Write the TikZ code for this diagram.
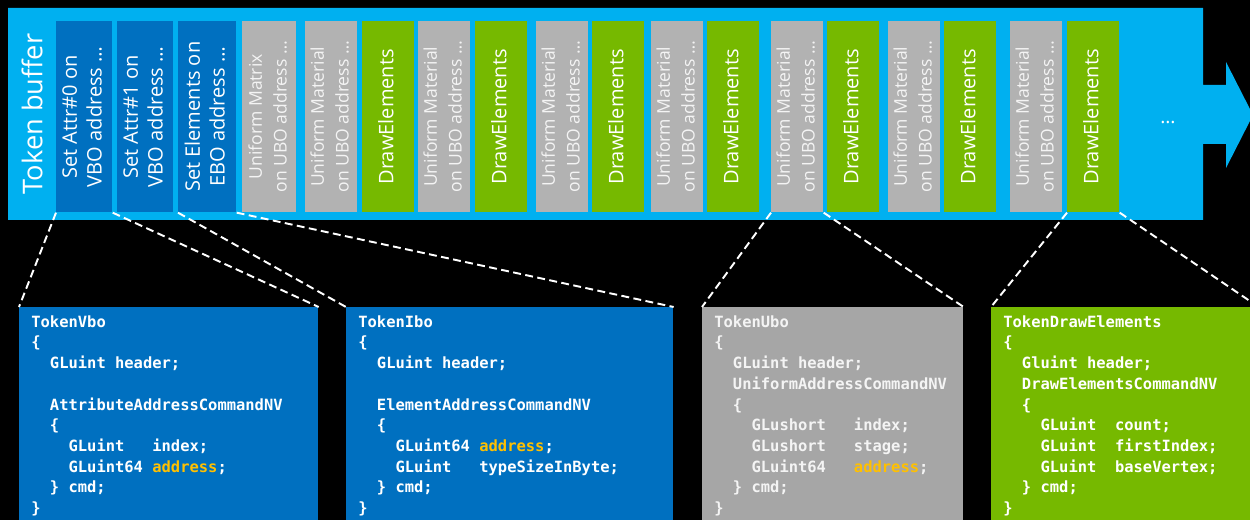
\documentclass[tikz,border=0pt]{standalone}
\usepackage{fontspec}
\usepackage{graphicx}
\setmainfont{Open Sans}
\newfontfamily\codeface{DejaVu Sans Mono}

\definecolor{bufblue}{HTML}{00B0F0}
\definecolor{setblue}{HTML}{0070C0}
\definecolor{unigray}{HTML}{B2B2B2}
\definecolor{ubogray}{HTML}{A6A6A6}
\definecolor{unitext}{HTML}{F4F4F4}
\definecolor{drawgreen}{HTML}{76B900}
\definecolor{addrgold}{HTML}{FFC000}

\newcommand{\vtext}[1]{\rotatebox{90}{\begin{tabular}{@{}c@{}}#1\end{tabular}}}
\newcommand{\addr}{\textcolor{addrgold}{address}}
% n blank characters of the mono font
\newcommand{\tab}[1]{\hspace*{#1\dimexpr 0.602em\relax}}

\tikzset{
  tok/.style={anchor=north west, inner sep=0pt, minimum height=3.82cm,
    text=white, font=\fontsize{11.4}{14}\selectfont},
  setbox/.style={tok, fill=setblue, minimum width=1.12cm},
  unibox/.style={tok, fill=unigray, minimum width=1.04cm, text=unitext,
    font=\fontsize{10}{14}\selectfont},
  drawbox/.style={tok, fill=drawgreen, minimum width=1.04cm},
  codebox/.style={anchor=north west, inner xsep=0.24cm, inner ysep=0.16cm,
    align=left, text=white, font=\codeface\bfseries\fontsize{8.8}{11.8}\selectfont},
  link/.style={draw=white, line width=1.1pt, dash pattern=on 4.5pt off 2.5pt}
}

\begin{document}
\begin{tikzpicture}[x=0.02cm, y=-0.02cm]
  \clip (0,0) rectangle (1250,520);
  \fill[black] (0,0) rectangle (1250,520);

  % token buffer with its arrow
  \fill[bufblue] (8,8) -- (1203,8) -- (1203,85) -- (1226,85) -- (1226,62)
    -- (1253,115) -- (1226,168) -- (1226,144) -- (1203,144) -- (1203,220)
    -- (8,220) -- cycle;
  \node[text=white, font=\fontsize{15.5}{18}\selectfont] (buflabel) at (32,114)
    {\rotatebox{90}{Token buffer}};
  \node[text=white, font=\fontsize{11}{14}\selectfont] (more) at (1168,122) {…};

  % tokens
  \node[setbox] (set0) at (56,21) {\vtext{Set Attr\#0 on\\VBO address …}};
  \node[setbox] (set1) at (117,21) {\vtext{Set Attr\#1 on\\VBO address …}};
  \node[setbox, minimum width=1.16cm] (setebo) at (178,21) {\vtext{Set Elements on\\EBO address …}};
  \node[unibox, minimum width=1.08cm] (unimat) at (242,21) {\vtext{Uniform Matrix\\on UBO address …}};

  \node[unibox] (uni1) at (305,21) {\vtext{Uniform Material\\on UBO address …}};
  \node[drawbox] (draw1) at (362,21) {\vtext{DrawElements}};
  \node[unibox] (uni2) at (418,21) {\vtext{Uniform Material\\on UBO address …}};
  \node[drawbox] (draw2) at (475,21) {\vtext{DrawElements}};
  \node[unibox] (uni3) at (536,21) {\vtext{Uniform Material\\on UBO address …}};
  \node[drawbox] (draw3) at (592,21) {\vtext{DrawElements}};
  \node[unibox] (uni4) at (651,21) {\vtext{Uniform Material\\on UBO address …}};
  \node[drawbox] (draw4) at (707,21) {\vtext{DrawElements}};
  \node[unibox] (uni5) at (771,21) {\vtext{Uniform Material\\on UBO address …}};
  \node[drawbox] (draw5) at (827,21) {\vtext{DrawElements}};
  \node[unibox] (uni6) at (888,21) {\vtext{Uniform Material\\on UBO address …}};
  \node[drawbox] (draw6) at (944,21) {\vtext{DrawElements}};
  \node[unibox] (uni7) at (1010,21) {\vtext{Uniform Material\\on UBO address …}};
  \node[drawbox] (draw7) at (1067,21) {\vtext{DrawElements}};

  % token structs
  \node[codebox, fill=setblue, text width=5.5cm] (vbo) at (19,307) {%
    TokenVbo\\
    \{\\
    \tab2GLuint\tab1header;\\
    \mbox{}\\
    \tab2AttributeAddressCommandNV\\
    \tab2\{\\
    \tab4GLuint\tab3index;\\
    \tab4GLuint64\tab1\addr;\\
    \tab2\}\tab1cmd;\\
    \}};
  \node[codebox, fill=setblue, text width=6.06cm] (ibo) at (346,307) {%
    TokenIbo\\
    \{\\
    \tab2GLuint\tab1header;\\
    \mbox{}\\
    \tab2ElementAddressCommandNV\\
    \tab2\{\\
    \tab4GLuint64\tab1\addr;\\
    \tab4GLuint\tab3typeSizeInByte;\\
    \tab2\}\tab1cmd;\\
    \}};
  \node[codebox, fill=ubogray, text=unitext, text width=4.74cm] (ubo) at (702,307) {%
    TokenUbo\\
    \{\\
    \tab2GLuint\tab1header;\\
    \tab2UniformAddressCommandNV\\
    \tab2\{\\
    \tab4GLushort\tab3index;\\
    \tab4GLushort\tab3stage;\\
    \tab4GLuint64\tab3\addr;\\
    \tab2\}\tab1cmd;\\
    \}};
  \node[codebox, fill=drawgreen, text width=4.86cm] (drawel) at (991,307) {%
    TokenDrawElements\\
    \{\\
    \tab2Gluint\tab1header;\\
    \tab2DrawElementsCommandNV\\
    \tab2\{\\
    \tab4GLuint\tab2count;\\
    \tab4GLuint\tab2firstIndex;\\
    \tab4GLuint\tab2baseVertex;\\
    \tab2\}\tab1cmd;\\
    \}};

  \draw[link] (set0.south west) -- (vbo.north west);
  \draw[link] (set0.south east) -- (vbo.north east);
  \draw[link] (setebo.south west) -- (ibo.north west);
  \draw[link] (setebo.south east) -- (ibo.north east);
  \draw[link] (uni5.south west) -- (ubo.north west);
  \draw[link] (uni5.south east) -- (ubo.north east);
  \draw[link] (draw7.south west) -- (drawel.north west);
  \draw[link] (draw7.south east) -- (drawel.north east);
\end{tikzpicture}
\end{document}
